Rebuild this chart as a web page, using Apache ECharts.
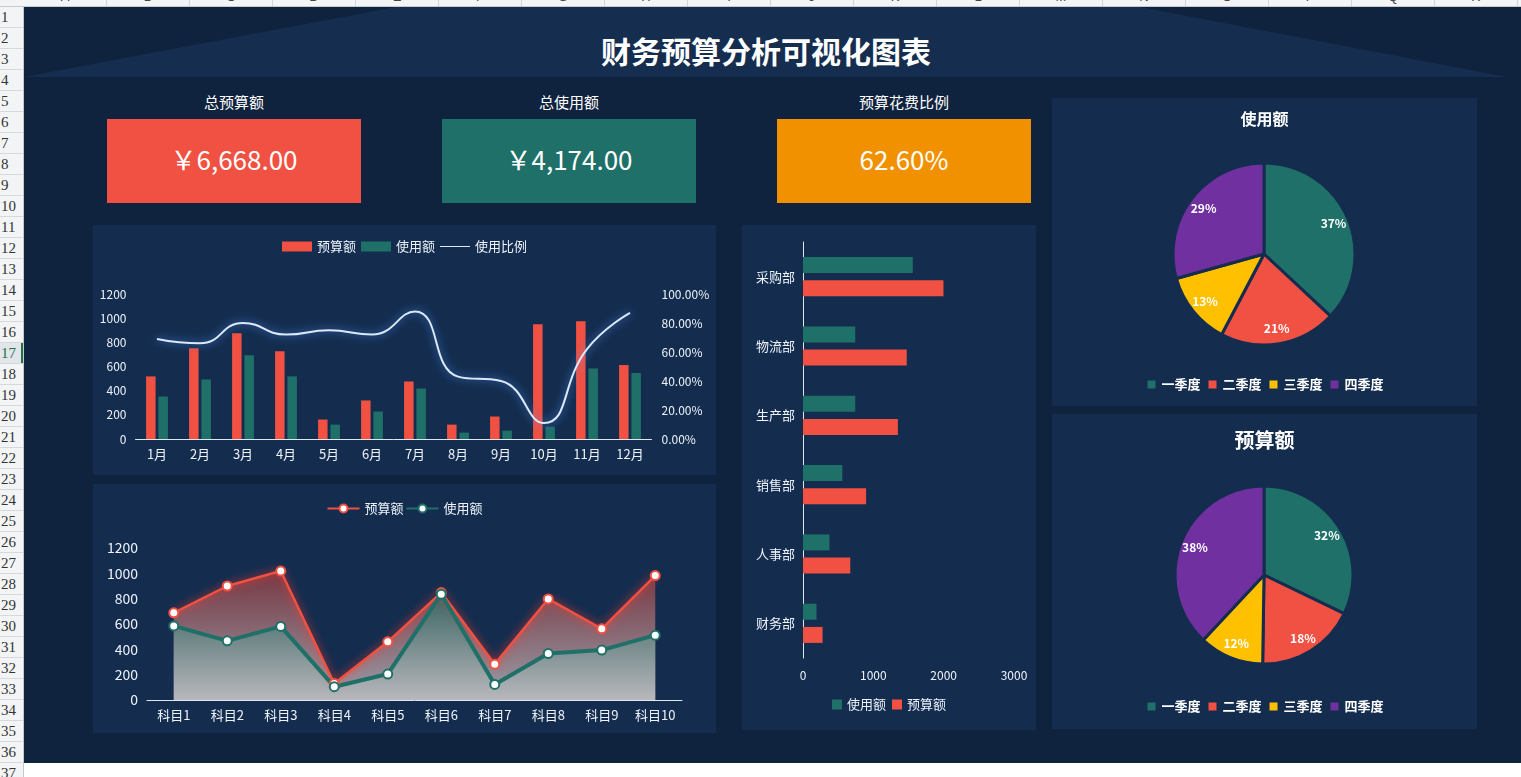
<!DOCTYPE html>
<html>
<head>
<meta charset="utf-8">
<title>财务预算分析可视化图表</title>
<script src="https://cdn.jsdelivr.net/npm/echarts@6/dist/echarts.min.js"></script>
<style>
  html, body { margin: 0; padding: 0; }
  body { width: 1521px; height: 777px; overflow: hidden; position: relative; background: #fff;
         font-family: "Noto Sans CJK SC", sans-serif; }
  #colhead { position: absolute; left: 0; top: 0; width: 1521px; height: 6px; background: #f3f4f6;
             border-bottom: 1px solid #c6cad0; overflow: hidden; }
  #colhead div { position: absolute; top: -12px; height: 18px; border-right: 1px solid #d0d3d8;
                 font: 13px "Liberation Sans", sans-serif; color: #444; text-align: center; line-height: 18px; }
  #rowhead { position: absolute; left: 0; top: 7px; width: 23px; height: 770px; background: #f3f4f6;
             border-right: 1px solid #c6cad0; overflow: hidden; }
  #rowhead div { height: 20px; border-bottom: 1px solid #d5d8dc; font: 15px "Liberation Serif", serif;
                 color: #333; line-height: 21px; padding-left: 1px; }
  #rowhead div.sel { color: #217346; background: #e2e6ea; box-shadow: inset -2px 0 0 #217346; }
  #dash { position: absolute; left: 24px; top: 7px; width: 1497px; height: 756px; background: #10233e; }
  #banner { position: absolute; left: 0; top: 0; width: 1497px; height: 70px; background: #152d4f;
            clip-path: polygon(372px 0, 1116px 0, 1483px 70px, 0 70px); }
  #title { position: absolute; left: 0; top: 23px; width: 1484px; text-align: center; color: #fff;
           font-size: 30px; font-weight: bold; line-height: 40px; }
  .klabel { position: absolute; top: 84px; width: 254px; text-align: center; color: #fff; font-size: 15px; line-height: 22px; }
  .kbox { position: absolute; top: 112px; width: 254px; height: 84px; color: #fff; text-align: center;
          font-size: 26px; line-height: 80px; }
  .panel { position: absolute; background: #142d4f; }
</style>
</head>
<body>
<div id="colhead"></div>
<div id="rowhead"></div>
<div id="dash">
  <div id="banner"></div>
  <div id="title">财务预算分析可视化图表</div>
  <div class="klabel" style="left:83px">总预算额</div>
  <div class="klabel" style="left:418px">总使用额</div>
  <div class="klabel" style="left:753px">预算花费比例</div>
  <div class="kbox" id="k1" style="left:83px;background:#f05142"></div>
  <div class="kbox" id="k2" style="left:418px;background:#1f7068"></div>
  <div class="kbox" id="k3" style="left:753px;background:#f29100"></div>
</div>
<div class="panel" id="c1" style="left:93px;top:225px;width:623px;height:250px"></div>
<div class="panel" id="c2" style="left:93px;top:484px;width:623px;height:249px"></div>
<div class="panel" id="c3" style="left:742px;top:225px;width:294px;height:505px"></div>
<div class="panel" id="c4" style="left:1052px;top:98px;width:425px;height:308px"></div>
<div class="panel" id="c5" style="left:1052px;top:414px;width:425px;height:315px"></div>

<script>
  // KPI
  const totalBudget = '￥6,668.00';
  const totalUsage = '￥4,174.00';
  const spendRatio = '62.60%';

  // 月度
  const months = ['1月', '2月', '3月', '4月', '5月', '6月', '7月', '8月', '9月', '10月', '11月', '12月'];
  const monthBudget = [518, 751, 875, 726, 161, 319, 476, 119, 186, 950, 975, 612];
  const monthUsage = [352, 493, 693, 518, 119, 227, 418, 53, 69, 102, 584, 546];
  const monthRatio = [0.69, 0.66, 0.80, 0.72, 0.75, 0.72, 0.88, 0.43, 0.40, 0.11, 0.62, 0.87];

  // 科目
  const subjects = ['科目1', '科目2', '科目3', '科目4', '科目5', '科目6', '科目7', '科目8', '科目9', '科目10'];
  const subjectBudget = [688, 900, 1018, 130, 459, 848, 283, 798, 562, 982];
  const subjectUsage = [585, 467, 581, 105, 205, 835, 123, 367, 394, 512];

  // 部门
  const depts = ['财务部', '人事部', '销售部', '生产部', '物流部', '采购部'];
  const deptUsage = [192, 376, 559, 743, 743, 1561];
  const deptBudget = [278, 672, 897, 1349, 1475, 1997];

  // 季度
  const quarters = ['一季度', '二季度', '三季度', '四季度'];
  const quarterUsage = [1538, 864, 540, 1221];
  const quarterBudget = [2144, 1206, 781, 2537];

  const RED = '#f05142', TEAL = '#1f7068', YELLOW = '#ffc000', PURPLE = '#7030a0';
  const FONT = '"Noto Sans CJK SC", sans-serif';
  const TXT = '#eef3fa';
  const plain = v => String(v);

  document.getElementById('k1').textContent = totalBudget;
  document.getElementById('k2').textContent = totalUsage;
  document.getElementById('k3').textContent = spendRatio;

  // spreadsheet frame
  let ch = '';
  const letters = 'ABCDEFGHIJKLMNOPQRS';
  for (let i = 0; i < letters.length; i++) {
    ch += '<div style="left:' + (24 + i * 83) + 'px;width:82px">' + letters[i] + '</div>';
  }
  document.getElementById('colhead').innerHTML = ch;
  let rh = '';
  for (let r = 1; r <= 37; r++) {
    rh += '<div' + (r === 17 ? ' class="sel"' : '') + '>' + r + '</div>';
  }
  document.getElementById('rowhead').innerHTML = rh;

  // 预算额 / 使用额 / 使用比例
  const c1 = echarts.init(document.getElementById('c1'));
  c1.setOption({
    textStyle: { fontFamily: FONT },
    legend: {
      top: 10, left: 'center', itemWidth: 30, itemHeight: 10, itemGap: 5,
      textStyle: { color: TXT, fontSize: 13 },
      data: [
        { name: '预算额', icon: 'rect' },
        { name: '使用额', icon: 'rect' },
        { name: '使用比例', icon: 'path://M0,4.5L30,4.5L30,5.5L0,5.5Z' }
      ]
    },
    grid: { left: 42.5, right: 64.5, top: 69, bottom: 36 },
    xAxis: {
      type: 'category', data: months,
      axisLine: { lineStyle: { color: '#dfe6ee' } }, axisTick: { show: false },
      axisLabel: { color: TXT, fontSize: 13, margin: 9 }
    },
    yAxis: [
      {
        type: 'value', min: 0, max: 1200, interval: 200, splitLine: { show: false },
        axisLabel: { color: TXT, fontSize: 12, margin: 9, formatter: plain }
      },
      {
        type: 'value', min: 0, max: 1, interval: 0.2, position: 'right', splitLine: { show: false },
        axisLabel: { color: TXT, fontSize: 12, margin: 10, formatter: v => (v * 100).toFixed(2) + '%' }
      }
    ],
    series: [
      { name: '预算额', type: 'bar', data: monthBudget, barWidth: 9.5, barGap: '30%', itemStyle: { color: RED } },
      { name: '使用额', type: 'bar', data: monthUsage, barWidth: 9.5, barGap: '30%', itemStyle: { color: TEAL } },
      {
        name: '使用比例', type: 'line', yAxisIndex: 1, data: monthRatio, smooth: true, symbol: 'none',
        itemStyle: { color: '#dce9f7' },
        lineStyle: { color: '#dce9f7', width: 2, shadowColor: 'rgba(80,150,255,0.9)', shadowBlur: 8 }
      }
    ]
  });

  // 科目面积图
  const c2 = echarts.init(document.getElementById('c2'));
  c2.setOption({
    textStyle: { fontFamily: FONT },
    legend: {
      top: 13, left: 'center', itemWidth: 32, itemHeight: 10, itemGap: 2,
      textStyle: { color: TXT, fontSize: 13 },
      data: ['预算额', '使用额']
    },
    grid: { left: 54, right: 34, top: 64, bottom: 33 },
    xAxis: {
      type: 'category', data: subjects,
      axisLine: { lineStyle: { color: '#dfe6ee' } }, axisTick: { show: false },
      axisLabel: { color: TXT, fontSize: 13, margin: 9, interval: 0 }
    },
    yAxis: {
      type: 'value', min: 0, max: 1200, interval: 200, splitLine: { show: false },
      axisLabel: { color: TXT, fontSize: 14, margin: 9, formatter: plain }
    },
    series: [
      {
        name: '预算额', type: 'line', data: subjectBudget, symbol: 'circle', symbolSize: 9,
        itemStyle: { color: '#fff', borderColor: RED, borderWidth: 2 },
        lineStyle: { color: RED, width: 2.5, shadowColor: '#ff3b2b', shadowBlur: 8 },
        areaStyle: {
          color: new echarts.graphic.LinearGradient(0, 0, 0, 1, [
            { offset: 0, color: 'rgba(168,62,62,0.95)' },
            { offset: 1, color: 'rgba(226,214,214,0.95)' }
          ])
        }
      },
      {
        name: '使用额', type: 'line', data: subjectUsage, symbol: 'circle', symbolSize: 9,
        itemStyle: { color: '#fff', borderColor: TEAL, borderWidth: 2 },
        lineStyle: { color: TEAL, width: 4 },
        areaStyle: {
          color: new echarts.graphic.LinearGradient(0, 0, 0, 1, [
            { offset: 0, color: '#1f7068' },
            { offset: 1, color: '#c4c4c4' }
          ])
        }
      }
    ]
  });

  // 部门
  const c3 = echarts.init(document.getElementById('c3'));
  c3.setOption({
    textStyle: { fontFamily: FONT },
    legend: {
      bottom: 14, left: 'center', itemWidth: 10, itemHeight: 10, itemGap: 6, icon: 'rect',
      textStyle: { color: TXT, fontSize: 13 },
      data: ['使用额', '预算额']
    },
    grid: { left: 61, right: 22, top: 17, bottom: 72 },
    xAxis: {
      type: 'value', min: 0, max: 3000, interval: 1000, splitLine: { show: false },
      axisLine: { show: false }, axisTick: { show: false },
      axisLabel: { color: TXT, fontSize: 12, margin: 11, formatter: plain }
    },
    yAxis: {
      type: 'category', data: depts,
      axisLine: { lineStyle: { color: '#dfe6ee' } }, axisTick: { show: false },
      axisLabel: { color: TXT, fontSize: 13, margin: 8 }
    },
    series: [
      { name: '使用额', type: 'bar', data: deptUsage, barWidth: 16, barGap: '45%', itemStyle: { color: TEAL } },
      { name: '预算额', type: 'bar', data: deptBudget, barWidth: 16, barGap: '45%', itemStyle: { color: RED } }
    ]
  });

  function pieOption(title, titleSize, titleTop, data, r, cy, legendBottom) {
    const items = quarters.map((q, i) => ({ name: q, value: data[i] }));
    return {
      textStyle: { fontFamily: FONT },
      color: [TEAL, RED, YELLOW, PURPLE],
      title: {
        text: title, left: 'center', top: titleTop,
        textStyle: { color: '#fff', fontSize: titleSize, fontWeight: 'bold', fontFamily: FONT }
      },
      legend: {
        bottom: legendBottom, left: 'center', itemWidth: 10, itemHeight: 10, itemGap: 6, icon: 'rect',
        textStyle: { color: '#fff', fontSize: 13, fontWeight: 'bold' },
        data: quarters
      },
      series: [
        {
          type: 'pie', radius: r, center: [212, cy], data: items, label: { show: false },
          itemStyle: { borderColor: '#142d4f', borderWidth: 3 }, emphasis: { disabled: true }
        },
        {
          type: 'pie', radius: [r * 0.6, r], center: [212, cy], data: items, silent: true,
          itemStyle: { color: 'transparent', borderWidth: 0 },
          label: {
            show: true, position: 'inside', color: '#fff', fontSize: 12, fontWeight: 'bold',
            formatter: p => Math.round(p.percent) + '%'
          },
          labelLine: { show: false }
        }
      ]
    };
  }

  const c4 = echarts.init(document.getElementById('c4'));
  c4.setOption(pieOption('使用额', 16, 8, quarterUsage, 91, 156, 10));
  const c5 = echarts.init(document.getElementById('c5'));
  c5.setOption(pieOption('预算额', 20, 11, quarterBudget, 89, 161, 11));
</script>
</body>
</html>
